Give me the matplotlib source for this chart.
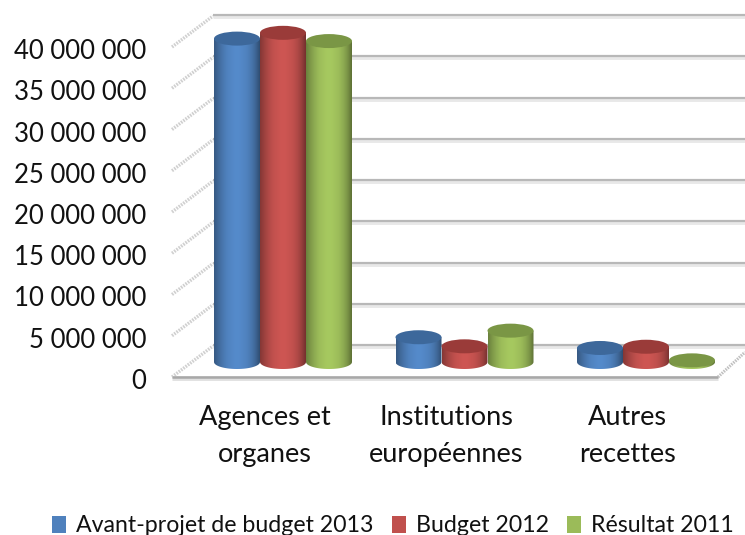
import numpy as np
import matplotlib
matplotlib.use("Agg")
import matplotlib.pyplot as plt
from matplotlib.patches import Ellipse, PathPatch, Patch
from matplotlib.path import Path
from matplotlib.colors import to_rgb
from matplotlib.transforms import ScaledTranslation

categories = ["Agences et\norganes", "Institutions\neuropéennes", "Autres\nrecettes"]
series_names = ["Avant-projet de budget 2013", "Budget 2012", "Résultat 2011"]
avant_projet = [39.2e6, 3.0e6, 1.7e6]
budget_2012 = [39.9e6, 1.9e6, 1.85e6]
resultat_2011 = [38.9e6, 3.8e6, 0.2e6]
y_ticks = [0, 5e6, 10e6, 15e6, 20e6, 25e6, 30e6, 35e6, 40e6]
y_labels = ["0", "5 000 000", "10 000 000", "15 000 000", "20 000 000",
            "25 000 000", "30 000 000", "35 000 000", "40 000 000"]
colors = ["#4f81bd", "#c0504d", "#9bbb59"]
tops = ["#3d689b", "#9a3b39", "#7a9645"]

plt.rcParams["font.family"] = ["Lato", "DejaVu Sans"]
W, H = 745, 535
fig = plt.figure(figsize=(W / 100, H / 100), dpi=100)
ax = fig.add_axes([172 / W, 1 - 377 / H, (745 - 172) / W, (377 - 10) / H])

GROUP_PX = 181.5
PX_V = 330 / 40e6
xlim = ((172 - 283) / GROUP_PX, (745 - 283) / GROUP_PX)
depth_x = 41 / GROUP_PX
depth_y = 31 / PX_V
base = 15 / PX_V
bar_w = 46 / GROUP_PX
ell_h = 14 / PX_V
right_front = (718 - 283) / GROUP_PX

# walls
for v in y_ticks:
    ax.plot([xlim[0] + depth_x, xlim[1]], [v + depth_y] * 2, color="#e8e8e8", lw=3.5,
            zorder=1, clip_on=False, solid_capstyle="butt")
    ax.plot([xlim[0] + depth_x, xlim[1]], [v + depth_y + 0.12e6] * 2, color="#b8b8b8", lw=1.6,
            zorder=1.1, clip_on=False, solid_capstyle="butt")
    ax.plot([xlim[0], xlim[0] + depth_x], [v, v + depth_y], color="#d0d0d0", lw=2.4,
            ls=(0, (0.5, 0.35)), zorder=1.2, clip_on=False)
ax.plot([xlim[0], right_front], [-0.12e6] * 2, color="#e0e0e0", lw=3.5, zorder=1.3, clip_on=False,
        solid_capstyle="butt")
ax.plot([xlim[0], right_front], [0, 0], color="#a8a8a8", lw=1.8, zorder=1.4, clip_on=False,
        solid_capstyle="butt")
ax.plot([right_front, xlim[1]], [0, depth_y * 0.8], color="#c0c0c0", lw=2.2,
        ls=(0, (0.5, 0.35)), zorder=1.2, clip_on=False)

# cylinders
profile = np.array([0.70, 0.82, 0.92, 1.0, 1.04, 1.07, 1.07, 1.04, 1.0, 0.92, 0.80, 0.62])
grad_t = np.linspace(0, 1, 40)
grad = np.interp(grad_t, np.linspace(0, 1, len(profile)), profile)
all_series = [avant_projet, budget_2012, resultat_2011]
z = 3
for i in range(len(categories)):
    for j, vals in enumerate(all_series):
        v = vals[i]
        cx = i + (j - 1) * bar_w
        left, right = cx - bar_w / 2, cx + bar_w / 2
        rgb = np.array(to_rgb(colors[j]))
        img = np.clip(grad[None, :, None] * rgb[None, None, :], 0, 1)
        t = np.linspace(np.pi, 2 * np.pi, 40)
        xs = cx + bar_w / 2 * np.cos(t)
        ys = base + ell_h / 2 * np.sin(t)
        verts = np.column_stack([np.r_[xs, right, left, left], np.r_[ys, base + v, base + v, ys[0]]])
        clip = PathPatch(Path(verts), transform=ax.transData, fc="none", ec="none")
        ax.add_patch(clip)
        im = ax.imshow(img, extent=(left, right, base - ell_h, base + v), aspect="auto",
                       zorder=z, interpolation="bilinear")
        im.set_clip_path(clip)
        top = Ellipse((cx, base + v), bar_w, ell_h, fc=tops[j], ec="none", zorder=z + 0.1, clip_on=False)
        ax.add_patch(top)
        z += 1

ax.set_xlim(*xlim)
ax.set_ylim(0, 367 / PX_V)
for s in ax.spines.values():
    s.set_visible(False)
ax.patch.set_visible(False)
ax.set_yticks(y_ticks)
ax.set_yticklabels(y_labels, fontsize=18.5, color="#111111")
ax.set_xticks(np.arange(len(categories)) - 0.1)
ax.set_xticklabels(categories, fontsize=19.5, color="#111111", linespacing=1.6)
ax.tick_params(axis="y", length=0, pad=18.7)
ax.tick_params(axis="x", length=0, pad=20)
shift = ScaledTranslation(0, -2 / 100, fig.dpi_scale_trans)
for lab in ax.get_yticklabels():
    lab.set_transform(lab.get_transform() + shift)

handles = [Patch(fc=c, ec="none") for c in colors]
fig.legend(handles, series_names, loc="center", bbox_to_anchor=(393 / W, 1 - 526 / H), ncol=3, frameon=False,
           fontsize=16.7, handlelength=0.6, handleheight=0.75, handletextpad=0.42, columnspacing=0.8,
           labelcolor="#111111", borderpad=0)
fig.savefig("out.png", dpi=100)
